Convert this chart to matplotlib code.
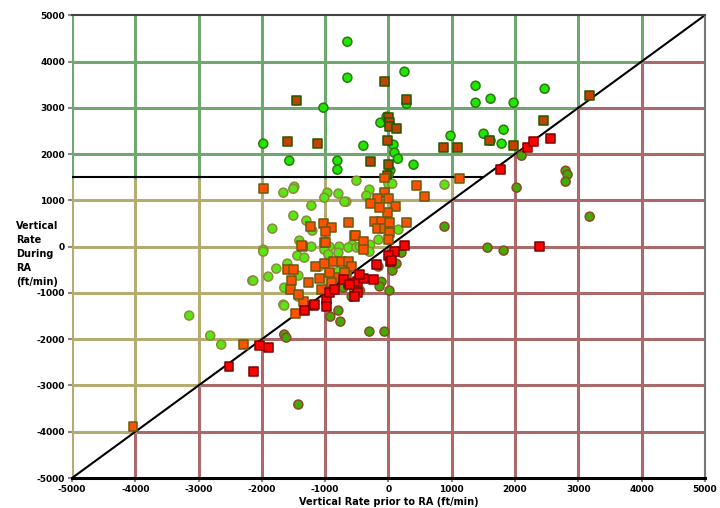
import numpy as np
import matplotlib.pyplot as plt

# values (ft/min)
circ_x = [-649, -649, 253, -1028, -1978, -1566, -807, -807, -396, -127, 285, 79, 95, 150, 396,
          1377, 1614, 1377, 1978, 2468, 981, 1503, 1820, 1788, 1614, -30, 30, 0,
          886, 886, -506, -1487, -1503, -1661, -965, -1013, -791, -665, -1218, -1503, -1297,
          -1203, -1835, -1408, -1978, -696, -301, -350, 0, 60, 158, -158, -570, -1978, -1440,
          -1329, -1772, -1598, -1424, -2152, -1646, -1661, -1424, -1218, -934, -775, -633,
          -506, -1013, -950, -791, -1092, -791, -696, -3149, -2816, -2642, -2136, -1899,
          -1646, -380, -290, -300, -450,
          2104, 2800, 2830, 2800, 2025, 3180, 1566, 1820, -1646, -1614, -1424, -918, -759,
          -791, -301, -63, 16, 63, 127, 206, -158, -110, -140, -450, -540, -580, -712]
circ_y = [4428, 3650, 3780, 3002, 2225, 1857, 1857, 1663, 2181, 2678, 3088, 2203, 2030, 1900, 1771,
          3477, 3196, 3110, 3110, 3412, 2397, 2440, 2527, 2225, 2290, 2808, 1650, 1560,
          1339, 432, 1425, 1296, 1250, 1166, 1166, 1058, 1145, 972, 886, 670, 562,
          346, 389, 130, -65, 972, 1231, 1100, 1360, 1360, 367, 151, 40, -108, -194,
          -238, -475, -367, -626, -734, -886, -1253, -1080, 0, 0, 0, -20,
          -20, -65, -170, -130, -432, -540, -540, -1490, -1922, -2117, -734, -648,
          -1274, 20, 40, -110, 0,
          1965, 1640, 1555, 1404, 1274, 648, -22, -86, -1900, -1965, -3412, -1512, -1620,
          -1382, -1836, -1836, -950, -518, -370, -130, -430, -760, -860, -950, -930, -1080, -886]

sq_x = [-1456, -1598, -1123, -63, 285, 0, 16, 16, 127, -16, -285, 0, 870, 1092, 1598, 1978,
        2453, 3180, -20,
        -1978, -1234, -1029, -902, -997, -633, -538, -1013, -1361, -63, 443, 1123, -63, -174,
        -285, 0, 110, -16, -142, 570, 285, -522, -396, -221, -110, -174, -63, 16, 16, 0,
        -4035, -2294, -1345, -1472, -1376, -997, -1150, -1013, -870, -744, -633, -1598,
        -1503, -1266, -1092, -934, -791, -665, -585, -1535, -1551, -1424, -1060, -902,
        -396, -696,
        1772, 2199, 2294, 2563, 2389, -2516, -2136, -2041, -1899, -1329, -1187, -1171, -981,
        -934, -981, -854, -633, -490, -490, -712, 253, 95, 0, 32, -190, -617, -396, -237,
        -538, -458, 47]
sq_y = [3153, 2268, 2225, 3564, 3175, 2786, 2678, 2592, 2548, 2289, 1836, 1771, 2138, 2138, 2289, 2181,
        2721, 3261, 1550,
        1253, 432, 497, 410, 324, 518, 238, 86, 0, 1480, 1317, 1468, 1166, 1036,
        928, 1036, 864, 734, 842, 1080, 518, 238, 108, 540, 540, 389, 389, 518, 302, 151,
        -3888, -2117, -1188, -1447, 22, 86, -432, -367, -324, -324, -324, -497,
        -497, -777, -691, -562, -670, -605, -432, -734, -929, -1037, -929, -777,
        -65, -562,
        1663, 2138, 2268, 2333, 0, -2592, -2700, -2138, -2181, -1382, -1274, -1253, -1145,
        -994, -1296, -929, -799, -756, -994, -713, 22, -108, -194, -324, -389, -821, -691, -713,
        -1080, -605, -302]

ticks = [-5000, -4000, -3000, -2000, -1000, 0, 1000, 2000, 3000, 4000, 5000]
tick_labels = ["-5000", "-4000", "-3000", "-2000", "-1000", "0", "1000", "2000", "3000", "4000", "5000"]
limit = 1500

green = "#6fa86f"
olive = "#b4ac70"
red = "#ab6a6a"

fig = plt.figure(figsize=(7.2, 5.08), dpi=100)
ax = fig.add_axes([0.1, 0.059, 0.879, 0.911])
lo, hi = ticks[0], ticks[-1]

# grid lines coloured by zone
for c in ticks[:-1]:
    ax.plot([c, c], [lo, c], color=red, lw=2.2, zorder=1)
    if c < limit:
        ax.plot([c, c], [c, limit], color=olive, lw=2.2, zorder=1)
        ax.plot([c, c], [limit, hi], color=green, lw=2.2, zorder=1)
    else:
        ax.plot([c, c], [c, hi], color=green, lw=2.2, zorder=1)
for r in ticks[1:-1]:
    ax.plot([r, hi], [r, r], color=red, lw=2.2, zorder=1)
    ax.plot([lo, r], [r, r], color=green if r > limit else olive, lw=2.2, zorder=1)

ax.plot([lo, limit], [limit, limit], color="black", lw=1.5, zorder=2)
ax.plot([lo, hi], [lo, hi], color="black", lw=1.5, zorder=2)


def zone_colors(xs, ys, cols):
    out_f, out_e = [], []
    for x, y in zip(xs, ys):
        if y < x:
            k = 2
        elif y > limit:
            k = 0
        else:
            k = 1
        out_f.append(cols[k][0])
        out_e.append(cols[k][1])
    return out_f, out_e


cf, ce = zone_colors(circ_x, circ_y, [("#22e600", "#2a7a10"), ("#5ae614", "#8c8a3a"), ("#44aa00", "#8a4a2a")])
sf, se = zone_colors(sq_x, sq_y, [("#c04400", "#1e5a00"), ("#ff5200", "#6a5a10"), ("#ff0000", "#7a0000")])

ax.scatter(circ_x, circ_y, s=42, marker="o", c=cf, edgecolors=ce, linewidths=1.1, zorder=3)
ax.scatter(sq_x, sq_y, s=38, marker="s", c=sf, edgecolors=se, linewidths=1.1, zorder=4)

ax.set_xlim(lo, hi)
ax.set_ylim(lo, hi)
ax.set_xticks(ticks)
ax.set_xticklabels(tick_labels, fontsize=6.5, fontweight="bold")
ax.set_yticks(ticks)
ax.set_yticklabels(tick_labels, fontsize=6.5, fontweight="bold")
ax.tick_params(length=3, width=1.5, color="#888888", pad=2)

ax.spines["left"].set_visible(False)
ax.spines["bottom"].set_linewidth(2.2)
ax.spines["bottom"].set_color("black")
ax.spines["top"].set_linewidth(1.5)
ax.spines["top"].set_color("#444444")
ax.spines["right"].set_linewidth(1.5)
ax.spines["right"].set_color("#777777")

ax.set_xlabel("Vertical Rate prior to RA (ft/min)", fontsize=7, fontweight="bold", labelpad=2)
fig.text(0.022, 0.5, "Vertical\nRate\nDuring\nRA\n(ft/min)", fontsize=7, fontweight="bold",
         ha="left", va="center", linespacing=1.5)

fig.savefig("out.png", dpi=100)
